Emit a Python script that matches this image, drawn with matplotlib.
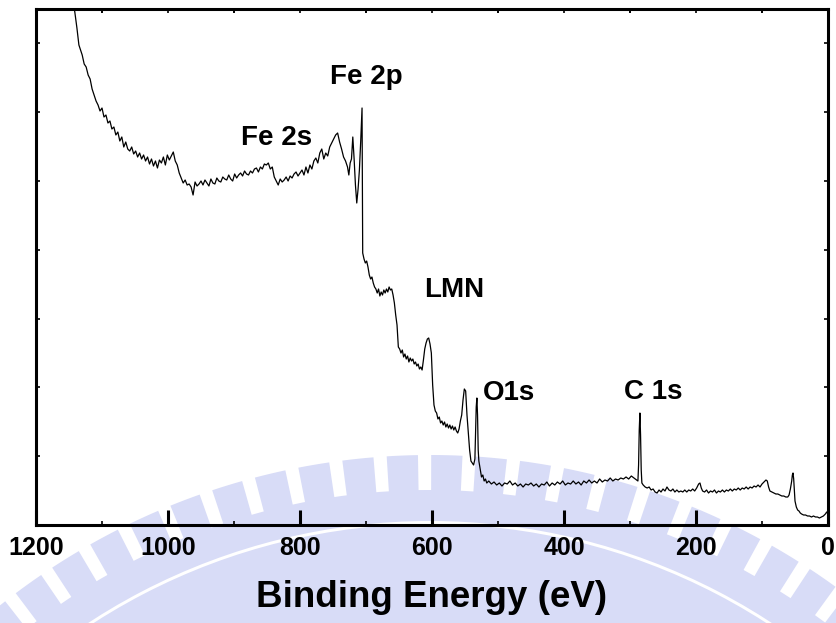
import numpy as np
import matplotlib
matplotlib.use('Agg')
import matplotlib.pyplot as plt
from matplotlib.patches import Wedge
from matplotlib.ticker import MultipleLocator

plt.rcParams['font.family'] = ['Liberation Sans', 'DejaVu Sans']
plt.rcParams['font.weight'] = 'bold'

# XPS survey, binding energy (eV) vs intensity (a.u.)
be_high = [1150, 1145, 1141, 1138, 1135, 1133, 1130, 1127, 1124, 1121, 1118, 1115, 1112, 1109,
           1106, 1103, 1100, 1097, 1094, 1091, 1088, 1085, 1082, 1079, 1076, 1073, 1070, 1067,
           1064, 1061, 1058, 1055, 1052, 1049, 1046, 1043, 1040, 1037, 1034, 1031, 1028, 1025,
           1022, 1019, 1016, 1013, 1010, 1007, 1004, 1001, 998, 995, 992, 989, 986, 983, 980,
           977, 974, 971, 968, 965, 962, 959, 956, 953, 950, 947, 944, 941, 938, 935, 932, 929,
           926, 923, 920, 917, 914, 911, 908, 905, 902, 899, 896, 893, 890, 887, 884, 881, 878,
           875, 872, 869, 866, 863, 860, 857, 854, 851, 848, 845, 842, 839, 836, 833, 830, 827,
           824, 821, 818, 815, 812, 809, 806, 803, 800, 797, 794, 791, 788, 785, 782, 779, 776,
           773, 770, 767, 764, 761, 758, 755, 752, 749, 746, 743, 740, 737, 734, 731, 728, 726,
           724, 722, 720, 718, 716, 714, 712, 710, 708, 706]
int_high = [560, 530, 512, 497, 480, 476, 470, 461, 458, 450, 446, 436, 430, 424,
            420, 414, 417, 408, 410, 402, 404, 396, 398, 390, 393, 384, 388, 378,
            383, 376, 374, 378, 371, 374, 368, 372, 366, 370, 364, 368, 361, 366,
            359, 364, 357, 365, 362, 368, 360, 370, 365, 369, 373, 364, 360, 352, 347,
            342, 345, 340, 341, 338, 330, 343, 339, 341, 344, 340, 345, 342, 339, 346, 342, 341,
            347, 344, 343, 348, 346, 345, 350, 346, 344, 351, 347, 350, 352, 349, 354, 351, 350,
            354, 352, 356, 357, 353, 358, 356, 361, 360, 362, 356, 358, 348, 344, 340, 346, 343,
            345, 348, 344, 349, 347, 351, 353, 349, 352, 355, 350, 358, 352, 360, 356, 364, 367,
            362, 372, 376, 366, 372, 369, 378, 382, 386, 390, 392, 383, 376, 368, 364, 358, 350,
            362, 366, 388, 366, 340, 322, 336, 355, 384, 417]

be_mid = [705, 703, 701, 699, 697, 695, 693, 691, 689, 687, 685, 683, 681, 679, 677, 675,
          673, 671, 669, 667, 665, 663, 661, 659, 657, 655, 653, 651, 649, 647, 645, 643,
          641, 639, 637, 635, 633, 631, 629, 627, 625, 623, 621, 619, 617, 615, 613, 611,
          609, 607, 605, 603, 601, 599, 597, 595, 593, 591, 589, 587, 585, 583, 581, 579,
          577, 575, 573, 571, 569, 567, 565, 563, 561, 559, 557, 555, 553, 551, 549, 547,
          545, 543, 541, 539, 537, 535, 534, 533, 532, 531, 530, 529, 527, 525, 523, 521,
          519, 517]
int_mid = [272, 266, 262, 264, 258, 250, 246, 248, 242, 238, 236, 232, 236, 229, 233, 230,
           235, 232, 236, 233, 238, 235, 236, 230, 222, 210, 200, 178, 176, 172, 175, 168,
           171, 166, 169, 163, 167, 164, 166, 161, 163, 159, 161, 156, 158, 155, 165, 176,
           182, 186, 187, 181, 172, 140, 120, 114, 112, 106, 108, 102, 104, 100, 103, 98,
           101, 97, 100, 96, 99, 95, 98, 94, 92, 96, 104, 110, 125, 136, 134, 110,
           92, 75, 64, 62, 60, 66, 90, 118, 127, 110, 75, 64, 56, 48, 50, 44,
           46, 42]

be_low = [514, 510, 506, 502, 498, 494, 490, 486, 482, 478, 474, 470, 466, 462, 458, 454,
          450, 446, 442, 438, 434, 430, 426, 422, 418, 414, 410, 406, 402, 398, 394, 390,
          386, 382, 378, 374, 370, 366, 362, 358, 354, 350, 346, 342, 338, 334, 330, 326,
          322, 318, 314, 310, 306, 302, 298, 294, 290, 288, 287, 286, 285, 284, 283, 282,
          280, 277, 274, 271, 268, 265, 262, 259, 256, 253, 250, 247, 244, 241, 238, 235,
          232, 229, 226, 223, 220, 217, 214, 211, 208, 205, 202, 199, 196, 194, 192, 190,
          187, 184, 181, 178, 175, 172, 169, 166, 163, 160, 157, 154, 151, 148, 145, 142,
          139, 136, 133, 130, 127, 124, 121, 118, 115, 112, 109, 106, 103, 100, 97, 94,
          92, 90, 88, 85, 82, 79, 76, 73, 70, 67, 64, 61, 59, 57, 55, 54,
          53, 52, 51, 50, 48, 46, 44, 42, 40, 37, 34, 31, 28, 25, 22, 19,
          16, 13, 10, 7, 4, 2, 1]
int_low = [44, 41, 43, 40, 42, 39, 42, 41, 44, 40, 42, 39, 41, 38, 41, 40,
           42, 39, 41, 38, 41, 40, 43, 39, 42, 40, 43, 41, 44, 40, 42, 41,
           44, 41, 43, 40, 44, 42, 45, 42, 44, 42, 46, 43, 45, 44, 47, 44,
           46, 45, 47, 46, 48, 46, 49, 47, 45, 44, 60, 95, 112, 90, 55, 42,
           40, 38, 37, 38, 35, 36, 33, 32, 35, 33, 36, 34, 38, 35, 34, 36,
           33, 35, 33, 34, 33, 35, 33, 35, 34, 36, 34, 37, 41, 42, 37, 34,
           33, 35, 32, 34, 33, 35, 32, 34, 33, 35, 33, 35, 34, 36, 34, 36,
           35, 37, 35, 37, 36, 38, 36, 38, 37, 39, 38, 40, 38, 41, 43, 45,
           44, 38, 34, 33, 32, 31, 31, 30, 29, 29, 28, 28, 30, 36, 44, 50,
           52, 46, 34, 24, 18, 15, 14, 12, 11, 10, 10, 9, 9, 8, 9, 8,
           8, 7, 8, 9, 11, 13, 12]

binding = np.array(be_high + be_mid + be_low)
intensity = np.array(int_high + int_mid + int_low)

peak_names = ['Fe 2p', 'Fe 2s', 'LMN', 'O1s', 'C 1s']
peak_be = [700, 835, 566, 483, 265]
peak_int = [448, 387, 235, 132, 133]

W, H = 837, 623
fig = plt.figure(figsize=(W / 100, H / 100), dpi=100)

# faint logo watermark behind the plot
bg = fig.add_axes([0, 0, 1, 1], zorder=0)
bg.set_xlim(0, W)
bg.set_ylim(H, 0)
bg.axis('off')
wm = '#d8dcf7'
cx, cy = 430, 1145
bg.add_patch(Wedge((cx, cy), 655, 215, 325, width=135, color=wm, lw=0))
bg.add_patch(Wedge((cx, cy), 624, 215, 325, width=3, color='white', lw=0))
for a in np.arange(222, 318, 3.7):
    bg.add_patch(Wedge((cx, cy), 690, a, a + 2.6, width=40, color=wm, lw=0))

ax = fig.add_axes([36 / W, 1 - 525 / H, 792 / W, 516 / H], zorder=1)
ax.patch.set_alpha(0)
ax.plot(binding, intensity, color='black', lw=0.9)

ax.set_xlim(1200, 0)
ax.set_ylim(0, 516)
ax.xaxis.set_major_locator(MultipleLocator(200))
ax.xaxis.set_minor_locator(MultipleLocator(100))
ax.yaxis.set_major_locator(MultipleLocator(68.8))
ax.tick_params(axis='x', which='major', direction='in', length=11, width=2.2,
               labelsize=18, pad=8, top=False)
ax.tick_params(axis='x', which='minor', direction='in', length=3, width=1.2, top=True)
ax.tick_params(axis='y', which='major', direction='in', length=3, width=1.2,
               left=True, right=True, labelleft=False)
for lab in ax.get_xticklabels():
    lab.set_fontweight('bold')
for s in ax.spines.values():
    s.set_linewidth(2.2)

# top ticks at every 100 (major positions too)
sec = ax.secondary_xaxis('top')
sec.xaxis.set_major_locator(MultipleLocator(100))
sec.tick_params(direction='in', length=3, width=1.2, labeltop=False)
sec.spines['top'].set_visible(False)

ax.set_xlabel('Binding Energy (eV)', fontsize=26.5, fontweight='bold', labelpad=14)

for name, x, y in zip(peak_names, peak_be, peak_int):
    ax.text(x, y, name, fontsize=20, fontweight='bold', ha='center', va='center')

fig.savefig('out.png', dpi=100)
print('[INFO] Done')
